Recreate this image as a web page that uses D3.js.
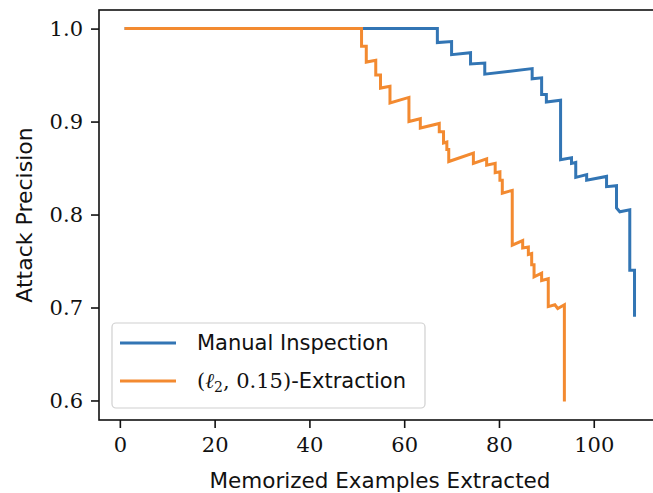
<!DOCTYPE html>
<html>
<head>
<meta charset="utf-8">
<script src="https://cdn.jsdelivr.net/npm/d3@7"></script>
<style>
  body { margin: 0; background: #fff; }
  svg { display: block; }
  .tick text { font-family: "DejaVu Serif", serif; }
</style>
</head>
<body>
<svg id="viz"></svg>
<script>
// precision vs. number of extracted examples (step vertices)
var manualX = [1, 67, 67, 70, 70, 74, 74, 77, 77, 87, 87, 89, 89, 90, 90, 93, 93,
               95.3, 95.3, 96.2, 96.2, 98.5, 98.5, 102.7, 102.7, 104.8, 104.8, 105.5, 107.6, 107.6, 108.6, 108.6]
var manualY = [1.0, 1.0, 0.985, 0.986, 0.972, 0.974, 0.962, 0.963, 0.951, 0.957, 0.946, 0.947, 0.929, 0.929, 0.921, 0.923, 0.859,
               0.861, 0.855, 0.856, 0.840, 0.843, 0.837, 0.841, 0.830, 0.831, 0.807, 0.803, 0.805, 0.740, 0.740, 0.690]

var l2X = [1, 51, 51, 52, 52, 54, 54, 55, 55, 57, 57, 61, 61, 63.4, 63.4, 67.4, 67.4, 68.3, 68.3, 69, 69, 69.4, 69.4,
           74.6, 74.6, 77.4, 77.4, 79.2, 79.2, 80.2, 80.2, 80.7, 80.7, 82.8, 82.8, 85, 85, 86.2, 86.2, 86.9, 86.9, 87.4, 87.4,
           89, 89, 90.4, 90.4, 91.8, 92.4, 93.8, 93.8]
var l2Y = [1.0, 1.0, 0.981, 0.981, 0.964, 0.966, 0.950, 0.950, 0.936, 0.938, 0.920, 0.926, 0.900, 0.903, 0.893, 0.898, 0.889, 0.889, 0.877, 0.878, 0.870, 0.870, 0.857,
           0.866, 0.855, 0.860, 0.853, 0.855, 0.845, 0.846, 0.837, 0.837, 0.823, 0.826, 0.767, 0.772, 0.764, 0.765, 0.757, 0.758, 0.746, 0.746, 0.733,
           0.737, 0.729, 0.731, 0.701, 0.703, 0.699, 0.703, 0.599]

var xTicks = [0, 20, 40, 60, 80, 100]
var yTicks = [0.6, 0.7, 0.8, 0.9, 1.0]

var width = 653
var height = 493

var svg = d3.select("#viz")
	.attr("width", width)
	.attr("height", height)

// plot area (right spine falls just off the picture)
var plotLeft = 99, plotRight = 662, plotTop = 10, plotBottom = 420

var scaleX = d3.scaleLinear().domain([-4.4, 114.4]).range([plotLeft, plotRight])
var scaleY = d3.scaleLinear().domain([0.579, 1.02]).range([plotBottom, plotTop])

var line = d3.line()
	.x(d => scaleX(d[0]))
	.y(d => scaleY(d[1]))

function pairs(xs, ys) {
	return xs.map((x, i) => [x, ys[i]])
}

svg.append("path")
	.datum(pairs(manualX, manualY))
	.attr("d", line)
	.attr("fill", "none")
	.attr("stroke", "#3275b4")
	.attr("stroke-width", 3)

svg.append("path")
	.datum(pairs(l2X, l2Y))
	.attr("d", line)
	.attr("fill", "none")
	.attr("stroke", "#f38a30")
	.attr("stroke-width", 3)

// axes
svg.append("g")
	.attr("transform", "translate(0," + plotBottom + ")")
	.call(d3.axisBottom(scaleX).tickValues(xTicks).tickSize(8).tickPadding(9).tickFormat(d3.format("d")))
svg.append("g")
	.attr("transform", "translate(" + plotLeft + ",0)")
	.call(d3.axisLeft(scaleY).tickValues(yTicks).tickSize(8).tickPadding(8).tickFormat(d3.format(".1f")))

svg.selectAll(".domain").remove()
svg.selectAll(".tick line").attr("stroke", "#111").attr("stroke-width", 1.6)
svg.selectAll(".tick text").attr("font-size", 21).attr("fill", "#111")

// spines
svg.append("rect")
	.attr("x", plotLeft)
	.attr("y", plotTop)
	.attr("width", plotRight - plotLeft)
	.attr("height", plotBottom - plotTop)
	.attr("fill", "none")
	.attr("stroke", "#111")
	.attr("stroke-width", 1.6)

// axis labels
svg.append("text")
	.text("Memorized Examples Extracted")
	.attr("x", 380)
	.attr("y", 488)
	.attr("text-anchor", "middle")
	.attr("font-family", "DejaVu Sans, sans-serif")
	.attr("font-size", 21.5)
	.attr("fill", "#111")

svg.append("text")
	.text("Attack Precision")
	.attr("transform", "translate(32,215) rotate(-90)")
	.attr("text-anchor", "middle")
	.attr("font-family", "DejaVu Sans, sans-serif")
	.attr("font-size", 22)
	.attr("fill", "#111")

// legend
var lg = svg.append("g")
lg.append("rect")
	.attr("x", 112).attr("y", 323)
	.attr("width", 313).attr("height", 85)
	.attr("rx", 4)
	.attr("fill", "#fff").attr("fill-opacity", 0.85)
	.attr("stroke", "#d0d0d0").attr("stroke-width", 1.2)

var legendColors = ["#3275b4", "#f38a30"]
var legendY = [343, 381]
legendColors.forEach((c, i) => {
	lg.append("line")
		.attr("x1", 120).attr("x2", 176)
		.attr("y1", legendY[i]).attr("y2", legendY[i])
		.attr("stroke", c).attr("stroke-width", 3)
})

lg.append("text")
	.text("Manual Inspection")
	.attr("x", 197).attr("y", legendY[0] + 7)
	.attr("font-family", "DejaVu Sans, sans-serif")
	.attr("font-size", 21)
	.attr("fill", "#111")

var t2 = lg.append("text")
	.attr("x", 197).attr("y", legendY[1] + 7)
	.attr("font-size", 21)
	.attr("fill", "#111")
	.attr("font-family", "DejaVu Serif, serif")
t2.append("tspan").text("(")
t2.append("tspan").text("ℓ").attr("font-style", "italic")
t2.append("tspan").text("2").attr("font-size", 14).attr("dy", 4)
t2.append("tspan").text(", 0.15)").attr("dy", -4)
t2.append("tspan").text("-Extraction").attr("font-family", "DejaVu Sans, sans-serif")
</script>
</body>
</html>
